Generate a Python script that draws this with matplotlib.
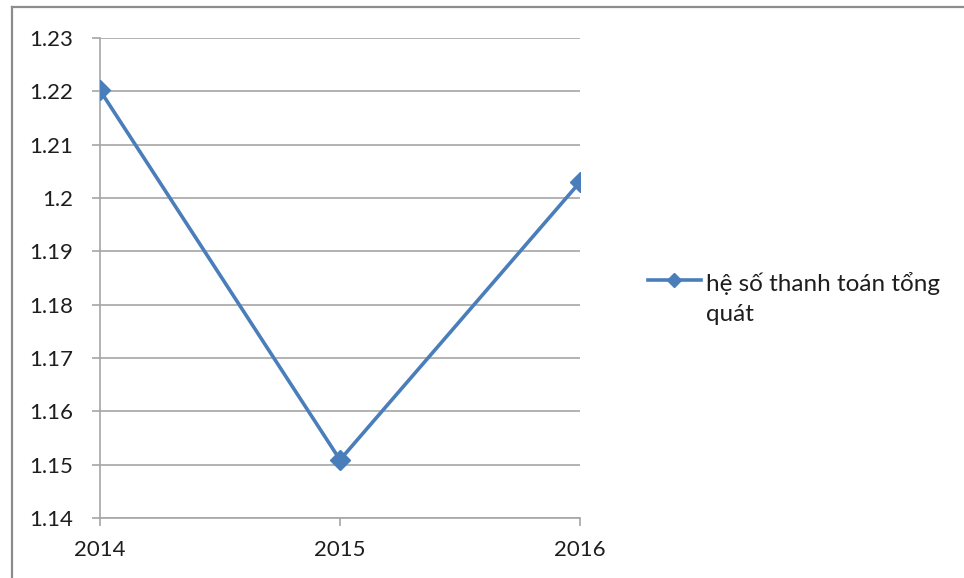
import matplotlib
matplotlib.use('Agg')
import matplotlib.pyplot as plt
from matplotlib.lines import Line2D

# he so thanh toan tong quat by year
years = ['2014', '2015', '2016']
ratio = [1.2202, 1.1509, 1.2030]
yticks = [1.14, 1.15, 1.16, 1.17, 1.18, 1.19, 1.20, 1.21, 1.22, 1.23]
series_label = 'hệ số thanh toán tổng\nquát'

plt.rcParams['font.family'] = ['Lato', 'DejaVu Sans']

blue = '#4a7ebb'
grid_gray = '#a6a6a6'
text_color = '#1e1e1e'


def main():
    fig = plt.figure(figsize=(9.64, 5.78), dpi=100)
    ax = fig.add_axes([0.1037, 0.1038, 0.6017 - 0.1037, 0.9343 - 0.1038])

    x = list(range(len(years)))
    ax.plot(x, ratio, color=blue, lw=2.6, marker='D', ms=10,
            markeredgecolor=blue, label=series_label, zorder=3)

    ax.set_xlim(0, len(years) - 1)
    ax.set_ylim(yticks[0], yticks[-1])
    ax.set_xticks(x)
    ax.set_xticklabels(years)
    ax.set_yticks(yticks)
    ax.set_yticklabels([f'{v:g}' for v in yticks])

    ax.grid(axis='y', color=grid_gray, lw=1.2)
    ax.set_axisbelow(True)
    for side in ['top', 'right', 'bottom']:
        ax.spines[side].set_visible(False)
    ax.spines['left'].set_color(grid_gray)
    ax.spines['left'].set_linewidth(1.2)

    ax.tick_params(axis='y', direction='out', length=6, width=1.2,
                   color=grid_gray, pad=13, labelsize=16, labelcolor=text_color)
    ax.tick_params(axis='x', direction='out', length=6, width=1.2,
                   color=grid_gray, pad=10, labelsize=16, labelcolor=text_color)
    # bottom line at 1.14
    ax.axhline(yticks[0], color=grid_gray, lw=1.2, clip_on=False)

    leg = fig.legend(loc='upper left', bbox_to_anchor=(0.649, 0.568), frameon=False,
                     fontsize=17.5, handlelength=2.2, handletextpad=0.2,
                     markerscale=0.7, labelcolor=text_color)
    for t in leg.get_texts():
        t.set_linespacing(1.55)
    # keep the line handle level with the first line of the wrapped label
    for col in leg._legend_handle_box.get_children():
        for item in col.get_children():
            item.align = 'top'

    # outer chart frame (top and left edges)
    fig.add_artist(Line2D([0.0125, 1.0], [0.988, 0.988], transform=fig.transFigure,
                          color='#8c8c8c', lw=1.6))
    fig.add_artist(Line2D([0.0125, 0.0125], [0.0, 0.988], transform=fig.transFigure,
                          color='#8c8c8c', lw=1.6))

    fig.savefig('out.png', dpi=100)


if __name__ == '__main__':
    main()
